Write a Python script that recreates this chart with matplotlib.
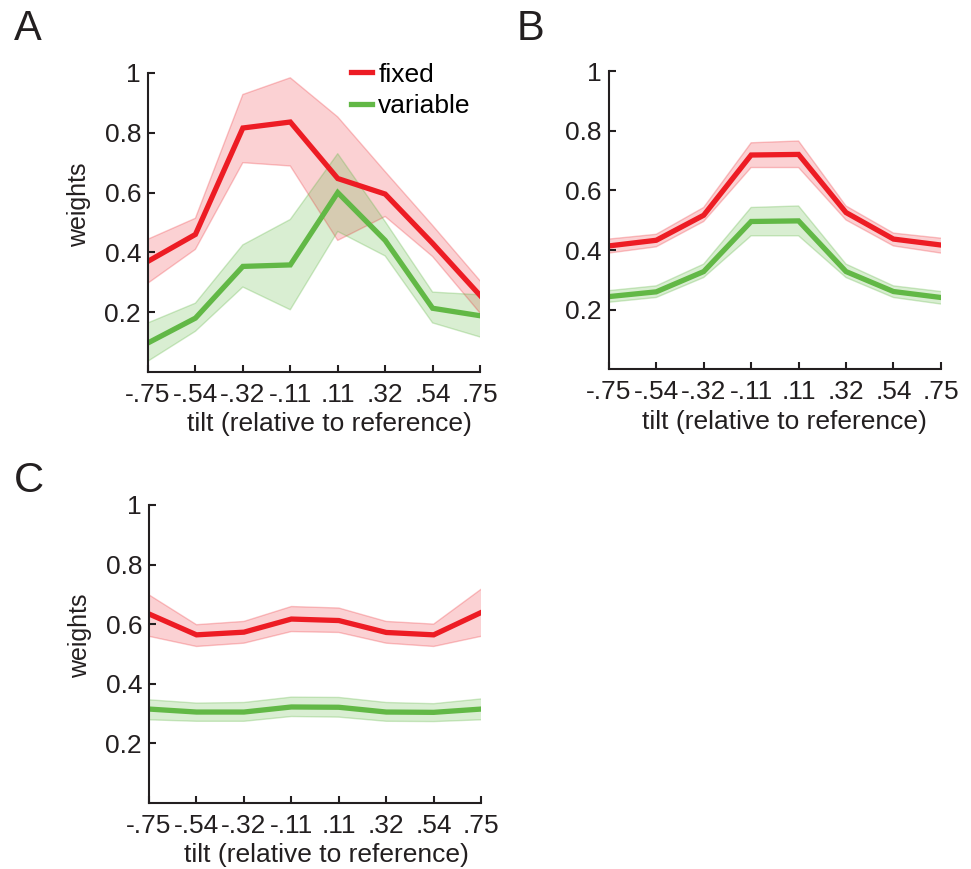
import matplotlib
matplotlib.use('Agg')
import matplotlib.pyplot as plt
import numpy as np

plt.rcParams['font.family'] = ['Liberation Sans', 'DejaVu Sans']

tilts = ['-.75', '-.54', '-.32', '-.11', '.11', '.32', '.54', '.75']
yticks = [0.2, 0.4, 0.6, 0.8, 1.0]
ytick_labels = ['0.2', '0.4', '0.6', '0.8', '1']

# panel A
a_fixed = [0.37, 0.46, 0.816, 0.836, 0.647, 0.595, 0.43, 0.256]
a_fixed_hi = [0.444, 0.514, 0.928, 0.984, 0.853, 0.67, 0.49, 0.305]
a_fixed_lo = [0.297, 0.41, 0.70, 0.689, 0.44, 0.52, 0.386, 0.197]
a_var = [0.097, 0.18, 0.353, 0.358, 0.60, 0.44, 0.213, 0.188]
a_var_hi = [0.164, 0.23, 0.425, 0.51, 0.73, 0.503, 0.267, 0.258]
a_var_lo = [0.036, 0.136, 0.284, 0.208, 0.47, 0.388, 0.164, 0.117]

# panel B
b_fixed = [0.414, 0.433, 0.517, 0.719, 0.721, 0.526, 0.437, 0.417]
b_fixed_hi = [0.437, 0.453, 0.543, 0.76, 0.766, 0.548, 0.457, 0.44]
b_fixed_lo = [0.39, 0.411, 0.496, 0.677, 0.677, 0.501, 0.414, 0.39]
b_var = [0.244, 0.26, 0.328, 0.496, 0.498, 0.328, 0.261, 0.241]
b_var_hi = [0.264, 0.28, 0.353, 0.543, 0.548, 0.353, 0.28, 0.261]
b_var_lo = [0.225, 0.241, 0.308, 0.448, 0.448, 0.308, 0.241, 0.219]

# panel C
c_fixed = [0.634, 0.564, 0.573, 0.617, 0.612, 0.572, 0.564, 0.639]
c_fixed_hi = [0.698, 0.598, 0.609, 0.659, 0.654, 0.609, 0.6, 0.717]
c_fixed_lo = [0.559, 0.525, 0.536, 0.575, 0.572, 0.536, 0.525, 0.559]
c_var = [0.315, 0.305, 0.305, 0.322, 0.321, 0.305, 0.304, 0.315]
c_var_hi = [0.346, 0.335, 0.337, 0.355, 0.354, 0.337, 0.333, 0.349]
c_var_lo = [0.279, 0.274, 0.274, 0.29, 0.288, 0.274, 0.273, 0.279]

red = '#ed1c24'
green = '#62b846'
ink = '#231f20'
fs = 19


def draw_panel(ax, fixed, fixed_hi, fixed_lo, var, var_hi, var_lo, xlab_x, ylabel=True):
    x = np.arange(len(tilts))
    ax.fill_between(x, fixed_lo, fixed_hi, facecolor=red, alpha=0.2, lw=0)
    ax.plot(x, fixed_hi, color=red, alpha=0.25, lw=1)
    ax.plot(x, fixed_lo, color=red, alpha=0.25, lw=1)
    ax.fill_between(x, var_lo, var_hi, facecolor=green, alpha=0.24, lw=0)
    ax.plot(x, var_hi, color=green, alpha=0.3, lw=1)
    ax.plot(x, var_lo, color=green, alpha=0.3, lw=1)
    l1, = ax.plot(x, fixed, color=red, lw=3.8, label='fixed', solid_joinstyle='miter')
    l2, = ax.plot(x, var, color=green, lw=3.8, label='variable', solid_joinstyle='miter')
    ax.set_xlim(0, len(tilts) - 1)
    ax.set_ylim(0, 1)
    ax.set_xticks(x)
    ax.set_xticklabels(tilts)
    ax.set_yticks(yticks)
    ax.set_yticklabels(ytick_labels)
    ax.spines['top'].set_visible(False)
    ax.spines['right'].set_visible(False)
    for s in ['left', 'bottom']:
        ax.spines[s].set_linewidth(1.5)
        ax.spines[s].set_color(ink)
    ax.tick_params(direction='in', length=5, width=1.5, labelsize=fs, colors=ink)
    ax.tick_params(axis='x', pad=8)
    ax.tick_params(axis='y', pad=5)
    ax.set_xlabel('tilt (relative to reference)', fontsize=fs, color=ink)
    ax.xaxis.set_label_coords(xlab_x, -0.135)
    if ylabel:
        ax.set_ylabel('weights', fontsize=18, color=ink)
        ax.yaxis.set_label_coords(-0.172, 0.56)
    return l1, l2


fig = plt.figure(figsize=(9.71, 8.69), dpi=100)
axA = fig.add_axes([0.1524, 0.572, 0.342, 0.344])
axB = fig.add_axes([0.627, 0.575, 0.342, 0.343])
axC = fig.add_axes([0.1535, 0.076, 0.342, 0.343])

l1, l2 = draw_panel(axA, a_fixed, a_fixed_hi, a_fixed_lo, a_var, a_var_hi, a_var_lo, 0.545)
draw_panel(axB, b_fixed, b_fixed_hi, b_fixed_lo, b_var, b_var_hi, b_var_lo, 0.53, ylabel=False)
draw_panel(axC, c_fixed, c_fixed_hi, c_fixed_lo, c_var, c_var_hi, c_var_lo, 0.535)

axA.legend(handles=[l1, l2], loc='upper left', bbox_to_anchor=(0.61, 1.035),
           frameon=False, fontsize=fs, handlelength=0.8, handletextpad=0.25,
           labelspacing=0.3, borderaxespad=0, borderpad=0)

fig.text(0.014, 0.954, 'A', fontsize=30, color=ink)
fig.text(0.532, 0.954, 'B', fontsize=30, color=ink)
fig.text(0.014, 0.434, 'C', fontsize=30, color=ink)

fig.savefig('out.png', dpi=100)
